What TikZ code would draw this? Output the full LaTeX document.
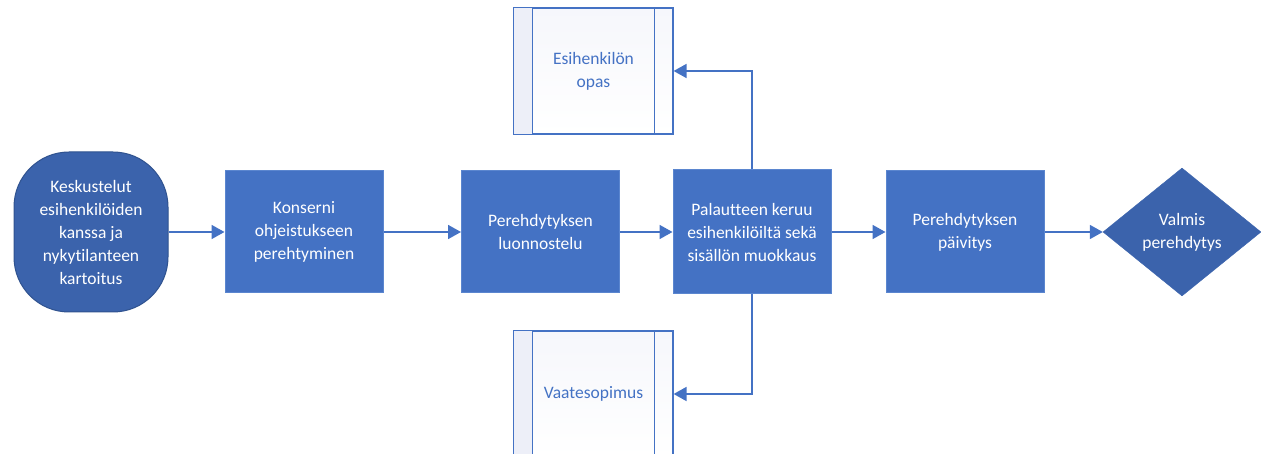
\documentclass[tikz,border=0pt]{standalone}
\usepackage{fontspec}
\setmainfont{Carlito}[Ligatures={NoCommon,NoRare,NoContextual}]
\usetikzlibrary{shapes.geometric,arrows.meta}
\definecolor{boxblue}{HTML}{4472C4}
\definecolor{boxedge}{HTML}{5B86CF}
\definecolor{darkblue}{HTML}{3B63AC}
\definecolor{darkedge}{HTML}{2F528F}
\definecolor{doctext}{HTML}{4472C4}
\definecolor{docfill}{HTML}{EDEFF8}
\tikzset{
  x=1pt,y=-1pt,
  every node/.style={font=\fontsize{17.5}{23}\selectfont, align=center},
  procbox/.style={rectangle, fill=boxblue, draw=boxedge, line width=1pt, text=white, minimum width=158pt, minimum height=122pt, inner sep=2pt},
  termbox/.style={rectangle, rounded corners=55pt, fill=darkblue, draw=darkedge, line width=1pt, text=white, minimum width=154pt, minimum height=160pt, inner sep=2pt},
  decbox/.style={diamond, fill=darkblue, draw=darkblue, text=white, minimum width=158pt, minimum height=128pt, inner sep=0pt, aspect=1.24},
  docbox/.style={rectangle, top color=docfill!50, bottom color=white, draw=boxblue, line width=1.2pt, text=doctext, minimum width=159pt, minimum height=126pt},
  docline/.style={boxblue, line width=1.2pt},
  flow/.style={draw=boxblue, line width=1.8pt, -{Triangle[length=13pt,width=14pt]}}
}
\begin{document}
\begin{tikzpicture}
\useasboundingbox (0,0) rectangle (1261,454);
\node[termbox] (t) at (91,232) {Keskustelut\\esihenkilöiden\\kanssa ja\\nykytilanteen\\kartoitus};
\node[procbox] (b1) at (304,232) {Konserni\\ohjeistukseen\\perehtyminen};
\node[procbox] (b2) at (540.5,232) {Perehdytyksen\\luonnostelu};
\node[procbox, minimum height=124pt] (b3) at (752,232) {Palautteen keruu\\esihenkilöiltä sekä\\sisällön muokkaus};
\node[procbox] (b4) at (965,232) {Perehdytyksen\\päivitys};
\node[decbox] (d) at (1182,232) {Valmis\\perehdytys};
\node[docbox] (o) at (593.5,71) {Esihenkilön\\opas};
\fill[docfill] ([xshift=0.6pt,yshift=-0.6pt]o.north west) rectangle ([xshift=19pt,yshift=0.6pt]o.south west);
\draw[docline] (o.north west) rectangle (o.south east);
\draw[docline] ([xshift=19pt]o.north west) -- ([xshift=19pt]o.south west);
\draw[docline] ([xshift=-19pt]o.north east) -- ([xshift=-19pt]o.south east);
\node[docbox] (v) at (593.5,394) {Vaatesopimus};
\fill[docfill] ([xshift=0.6pt,yshift=-0.6pt]v.north west) rectangle ([xshift=19pt,yshift=0.6pt]v.south west);
\draw[docline] (v.north west) rectangle (v.south east);
\draw[docline] ([xshift=19pt]v.north west) -- ([xshift=19pt]v.south west);
\draw[docline] ([xshift=-19pt]v.north east) -- ([xshift=-19pt]v.south east);
\draw[flow] (t.east) -- (b1.west);
\draw[flow] (b1.east) -- (b2.west);
\draw[flow] (b2.east) -- (b3.west);
\draw[flow] (b3.east) -- (b4.west);
\draw[flow] (b4.east) -- (d.west);
\draw[flow] (b3.north) |- (o.east);
\draw[flow] (b3.south) |- (v.east);
\end{tikzpicture}
\end{document}
